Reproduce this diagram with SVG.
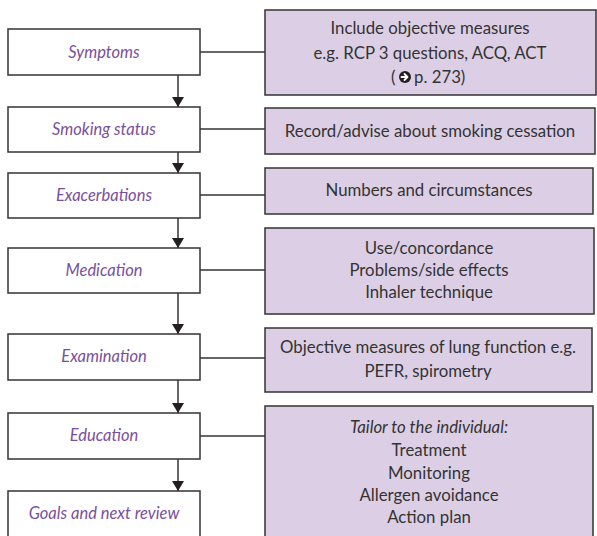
<svg xmlns="http://www.w3.org/2000/svg" width="597" height="536" viewBox="0 0 597 536">
  <defs>
    <marker id="arrow" viewBox="0 0 10 12" refX="10" refY="6" markerWidth="10" markerHeight="12" markerUnits="userSpaceOnUse" orient="auto">
      <path d="M0,0 L10,6 L0,12 Z" fill="#231f20"/>
    </marker>
  </defs>
  <style>
    .step rect { fill: #ffffff; stroke: #333333; stroke-width: 1.5; }
    .note rect { fill: #dccfe5; stroke: #333333; stroke-width: 1.5; }
    .step text { font-family: Lato, "Open Sans", sans-serif; font-style: italic; font-size: 16.5px; fill: #7a4f9e; text-anchor: middle; }
    .note text { font-family: Lato, "Open Sans", sans-serif; font-size: 16.8px; fill: #333333; text-anchor: middle; }
    .note text.start { text-anchor: start; }
    .note text .it { font-style: italic; }
    #connectors line { stroke: #333333; stroke-width: 1.5; }
    #connectors .flow { marker-end: url(#arrow); }
  </style>

  <rect width="597" height="536" fill="#ffffff"/>

  <!-- connectors: vertical flow arrows and horizontal links to notes -->
  <g id="connectors">
    <line class="flow" x1="178" y1="75" x2="178" y2="107"/>
    <line class="flow" x1="178" y1="152" x2="178" y2="173"/>
    <line class="flow" x1="178" y1="218" x2="178" y2="248"/>
    <line class="flow" x1="178" y1="293" x2="178" y2="334"/>
    <line class="flow" x1="178" y1="380" x2="178" y2="413"/>
    <line class="flow" x1="178" y1="459" x2="178" y2="491"/>
    <line x1="200" y1="52" x2="265" y2="52"/>
    <line x1="200" y1="129" x2="265" y2="129"/>
    <line x1="200" y1="195" x2="265" y2="195"/>
    <line x1="200" y1="270" x2="265" y2="270"/>
    <line x1="200" y1="358" x2="265" y2="358"/>
    <line x1="200" y1="436" x2="265" y2="436"/>
  </g>

  <!-- review steps -->
  <g id="symptoms" class="step">
    <rect x="8" y="29" width="192" height="46"/>
    <text x="104" y="58">Symptoms</text>
  </g>
  <g id="smoking" class="step">
    <rect x="8" y="107" width="192" height="45"/>
    <text x="104" y="135">Smoking status</text>
  </g>
  <g id="exacerbations" class="step">
    <rect x="8" y="173" width="192" height="45"/>
    <text x="104" y="201">Exacerbations</text>
  </g>
  <g id="medication" class="step">
    <rect x="8" y="248" width="192" height="45"/>
    <text x="104" y="276">Medication</text>
  </g>
  <g id="examination" class="step">
    <rect x="8" y="334" width="192" height="46"/>
    <text x="104" y="362">Examination</text>
  </g>
  <g id="education" class="step">
    <rect x="8" y="413" width="192" height="46"/>
    <text x="104" y="441">Education</text>
  </g>
  <g id="goals" class="step">
    <rect x="8" y="491" width="192" height="60"/>
    <text x="104" y="519">Goals and next review</text>
  </g>

  <!-- notes -->
  <g id="note-symptoms" class="note">
    <rect x="265" y="10" width="331" height="85"/>
    <text x="430" y="34">Include objective measures</text>
    <text x="430" y="59">e.g. RCP 3 questions, ACQ, ACT</text>
    <text class="start" x="391" y="83">(</text>
    <!-- page-reference icon: black disc with a white arrow -->
    <circle cx="405" cy="77" r="6" fill="#231f20"/>
    <path d="M401.5,77 H407 M404.5,74 L407.5,77 L404.5,80" fill="none" stroke="#ffffff" stroke-width="1.8" stroke-linecap="round" stroke-linejoin="round"/>
    <text class="start" x="414" y="83">p. 273)</text>
  </g>
  <g id="note-smoking" class="note">
    <rect x="265" y="108" width="330" height="46"/>
    <text x="430" y="137">Record/advise about smoking cessation</text>
  </g>
  <g id="note-exacerbations" class="note">
    <rect x="265" y="168" width="328" height="46"/>
    <text x="429" y="196">Numbers and circumstances</text>
  </g>
  <g id="note-medication" class="note">
    <rect x="265" y="228" width="329" height="86"/>
    <text x="429" y="254">Use/concordance</text>
    <text x="429" y="276">Problems/side effects</text>
    <text x="429" y="298">Inhaler technique</text>
  </g>
  <g id="note-examination" class="note">
    <rect x="265" y="328" width="327" height="64"/>
    <text x="428" y="353">Objective measures of lung function e.g.</text>
    <text x="428" y="377">PEFR, spirometry</text>
  </g>
  <g id="note-education" class="note">
    <rect x="265" y="406" width="328" height="145"/>
    <text x="429" y="433"><tspan class="it">Tailor to the individual:</tspan></text>
    <text x="429" y="456">Treatment</text>
    <text x="429" y="479">Monitoring</text>
    <text x="429" y="501">Allergen avoidance</text>
    <text x="429" y="523">Action plan</text>
  </g>
</svg>
